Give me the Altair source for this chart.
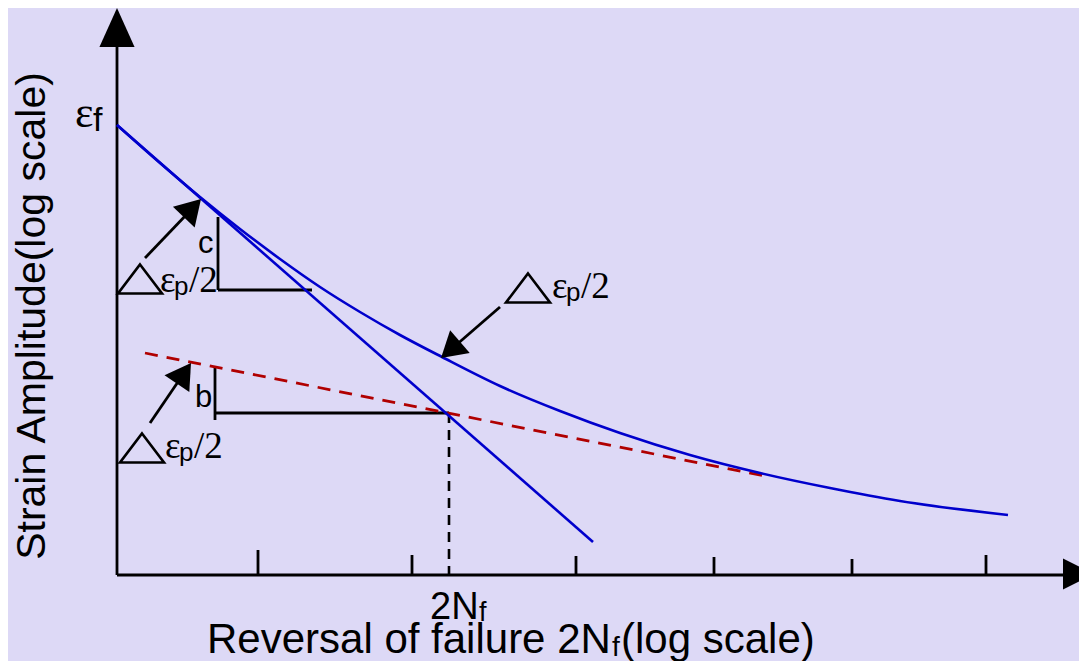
import altair as alt
import pandas as pd

X_DOMAIN = [8, 1079]
Y_DOMAIN = [8, 661]

# Total strain amplitude curve (blue)
total_x = [117, 160, 200, 240, 280, 320, 360, 400, 442, 500, 560, 620, 690, 760, 830, 900, 1008]
total_y = [125, 163, 197, 229, 259, 287, 312, 335, 357, 386, 411, 433, 455, 473, 488, 501, 515]
# Plastic strain line (blue)
plastic_x = [117, 593]
plastic_y = [125, 542]
# Elastic strain line (red dashed)
elastic_x = [145, 770]
elastic_y = [353, 477]

# Black solid segments: axes, ticks, slope triangles, arrow shafts
seg_x1 = [117, 117, 258, 412, 576, 714, 852, 986, 218, 218, 215, 215, 145, 150, 500]
seg_y1 = [575, 575, 575, 575, 575, 575, 575, 575, 217, 290, 367, 413, 258, 423, 307]
seg_x2 = [117, 1063, 258, 412, 576, 714, 852, 986, 218, 312, 215, 449, 188, 182, 455]
seg_y2 = [45, 575, 550, 555, 556, 557, 559, 555, 290, 290, 420, 413, 213, 376, 346]
# Black dashed drop line at 2Nf
drop_x = [449]
drop_y1 = [413]
drop_y2 = [575]

# Arrow heads (tip position, direction in degrees clockwise from up)
head_x = [201, 191, 441]
head_y = [199, 363, 358]
head_angle = [43.5, 34.3, 229.2]
yaxis_head_x = [117]
yaxis_head_y = [8]
xaxis_head_x = [1094]
xaxis_head_y = [574]

# Delta-triangle symbols and labels
tri_x = [140, 142, 528]
tri_y = [279, 448, 288]
eps_x = [160, 165, 552]
eps_y = [292, 458, 298]

BG = "#DDD9F6"
BLUE = "#0000CC"
RED = "#B00000"
SANS = "Liberation Sans"
SERIF = "Liberation Serif"

xscale = alt.Scale(domain=X_DOMAIN, nice=False, zero=False)
yscale = alt.Scale(domain=Y_DOMAIN, nice=False, zero=False, reverse=True)


def X(f="x"):
    return alt.X(f"{f}:Q", scale=xscale, axis=None)


def Y(f="y"):
    return alt.Y(f"{f}:Q", scale=yscale, axis=None)


total_df = pd.DataFrame({"x": total_x, "y": total_y})
plastic_df = pd.DataFrame({"x": plastic_x, "y": plastic_y})
elastic_df = pd.DataFrame({"x": elastic_x, "y": elastic_y})
seg_df = pd.DataFrame({"x": seg_x1, "y": seg_y1, "x2": seg_x2, "y2": seg_y2})
drop_df = pd.DataFrame({"x": drop_x, "y": drop_y1, "y2": drop_y2})
head_df = pd.DataFrame({"x": head_x, "y": head_y, "a": head_angle})
yhead_df = pd.DataFrame({"x": yaxis_head_x, "y": yaxis_head_y})
xhead_df = pd.DataFrame({"x": xaxis_head_x, "y": xaxis_head_y})
tri_df = pd.DataFrame({"x": tri_x, "y": tri_y})
eps_df = pd.DataFrame({"x": eps_x, "y": eps_y})

layers = []

layers.append(
    alt.Chart(seg_df).mark_rule(color="black", strokeWidth=2.8).encode(
        x=X(), y=Y(), x2="x2:Q", y2="y2:Q"
    )
)
layers.append(
    alt.Chart(drop_df).mark_rule(color="black", strokeWidth=2.6, strokeDash=[10, 7]).encode(
        x=X(), y=Y(), y2="y2:Q"
    )
)
layers.append(
    alt.Chart(elastic_df).mark_line(color=RED, strokeWidth=2.8, strokeDash=[13, 9]).encode(x=X(), y=Y())
)
layers.append(
    alt.Chart(plastic_df).mark_line(color=BLUE, strokeWidth=2.6).encode(x=X(), y=Y())
)
layers.append(
    alt.Chart(total_df).mark_line(color=BLUE, strokeWidth=2.6, interpolate="monotone").encode(x=X(), y=Y())
)
# arrow heads
layers.append(
    alt.Chart(head_df).mark_point(
        shape="M0,0L-0.6,1L0.6,1Z", size=2500, filled=True, color="black", opacity=1
    ).encode(x=X(), y=Y(), angle=alt.Angle("a:Q", scale=None))
)
layers.append(
    alt.Chart(yhead_df).mark_point(
        shape="M0,0L-0.45,1L0.45,1Z", size=6084, filled=True, color="black", opacity=1
    ).encode(x=X(), y=Y())
)
layers.append(
    alt.Chart(xhead_df).mark_point(
        shape="M0,0L-0.5,1L0.5,1Z", size=3844, filled=True, color="black", opacity=1, angle=90
    ).encode(x=X(), y=Y())
)
# delta triangles
layers.append(
    alt.Chart(tri_df).mark_point(
        shape="M0,-0.66L1,0.66L-1,0.66Z", size=1936, filled=False, color="black",
        strokeWidth=2.6, opacity=1
    ).encode(x=X(), y=Y())
)
# epsilon_p / 2 labels
layers.append(
    alt.Chart(eps_df).mark_text(
        text="ε", font=SERIF, fontSize=37, align="left", baseline="alphabetic", color="black"
    ).encode(x=X(), y=Y())
)
layers.append(
    alt.Chart(eps_df).mark_text(
        text="p", font=SANS, fontSize=26, align="left", baseline="alphabetic", color="black", dx=14, dy=3
    ).encode(x=X(), y=Y())
)
layers.append(
    alt.Chart(eps_df).mark_text(
        text="/2", font=SERIF, fontSize=37, align="left", baseline="alphabetic", color="black", dx=29
    ).encode(x=X(), y=Y())
)

# other labels
labels = [
    # text, x, y, font, size
    ("ε", 75, 127, SERIF, 44),
    ("f", 93, 131, SANS, 34),
    ("c", 198, 253, SANS, 31),
    ("b", 195, 407, SANS, 31),
    ("2N", 430, 619, SANS, 38),
    ("f", 479, 621, SANS, 27),
    ("Reversal of failure 2N", 207, 653, SANS, 42),
    ("f", 612, 656, SANS, 28),
    ("(log scale)", 621, 653, SANS, 42),
]
for t, lx, ly, fnt, fs in labels:
    layers.append(
        alt.Chart(pd.DataFrame({"x": [lx], "y": [ly]})).mark_text(
            text=t, font=fnt, fontSize=fs, align="left", baseline="alphabetic", color="black"
        ).encode(x=X(), y=Y())
    )

layers.append(
    alt.Chart(pd.DataFrame({"x": [33], "y": [316]})).mark_text(
        text="Strain Amplitude(log scale)", font=SANS, fontSize=41, angle=270,
        align="center", baseline="middle", color="black"
    ).encode(x=X(), y=Y())
)

chart = alt.layer(*layers).properties(
    width=1071, height=653, background=BG, padding=0, autosize="none"
).configure_view(stroke=None)

chart.save("out.html", embed_options={"renderer": "svg", "actions": False})
